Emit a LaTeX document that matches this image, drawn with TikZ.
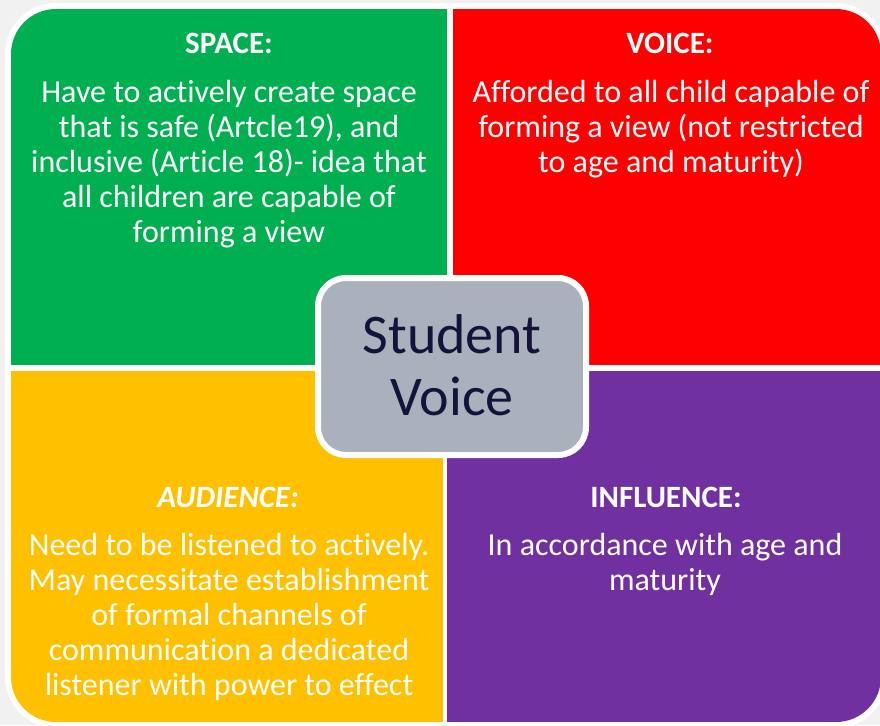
\documentclass[tikz,border=0pt]{standalone}
\usepackage{fontspec}
\setmainfont{Carlito}[Ligatures=NoCommon]
\definecolor{pagegray}{HTML}{F1F1F1}
\definecolor{qgreen}{HTML}{00B050}
\definecolor{qred}{HTML}{FF0000}
\definecolor{qyellow}{HTML}{FFC000}
\definecolor{qpurple}{HTML}{7030A0}
\definecolor{boxgray}{HTML}{AAB1BD}
\definecolor{navy}{HTML}{15133A}
% centred lines whose baseline is that of the first line
\newcommand{\stack}[1]{\begin{tabular}[t]{@{}c@{}}#1\end{tabular}}
\begin{document}
\begin{tikzpicture}[x=1pt,y=-1pt,
  quad/.style={rectangle,draw=none,inner sep=0pt,anchor=north west},
  head/.style={text=white,inner sep=0pt,anchor=base,font=\fontsize{31}{35}\selectfont\bfseries},
  body/.style={text=white,inner sep=0pt,anchor=base,font=\fontsize{32}{35}\selectfont},
  hub/.style={rectangle,rounded corners=28pt,draw=white,line width=6pt,fill=boxgray,
    minimum width=268pt,minimum height=177pt,inner sep=0pt},
  hubtext/.style={text=navy,inner sep=0pt,anchor=base,font=\fontsize{56}{62}\selectfont}]
\useasboundingbox (0,0) rectangle (880,725);
\fill[pagegray] (0,0) rectangle (880,725);
% white frame behind the four quadrants
\fill[white,rounded corners=51pt] (5,3) rectangle (887,728);
\begin{scope}
  \clip[rounded corners=45pt] (11,9) rectangle (881,722);
  \node[quad,fill=qgreen,minimum width=436pt,minimum height=356pt] (space) at (11,9) {};
  \node[quad,fill=qred,minimum width=428pt,minimum height=356pt] (voice) at (453,9) {};
  \node[quad,fill=qyellow,minimum width=432pt,minimum height=351pt] (audience) at (11,371) {};
  \node[quad,fill=qpurple,minimum width=434pt,minimum height=351pt] (influence) at (447,371) {};
\end{scope}
% headings
\node[head] (spaceh) at (229,53) {SPACE:};
\node[head] (voiceh) at (670,53) {VOICE:};
\node[head] (audienceh) at (228,507) {\itshape AUDIENCE:};
\node[head] (influenceh) at (666,507) {INFLUENCE:};
% texts
\node[body] (spacet) at (229,102) {\stack{Have to actively create space\\that is safe (Artcle19), and\\inclusive (Article 18)- idea that\\all children are capable of\\forming a view}};
\node[body] (voicet) at (671,102) {\stack{Afforded to all child capable of\\forming a view (not restricted\\to age and maturity)}};
\node[body] (audiencet) at (229,555) {\stack{Need to be listened to actively.\\May necessitate establishment\\of formal channels of\\communication a dedicated\\listener with power to effect}};
\node[body] (influencet) at (665,555) {\stack{In accordance with age and\\maturity}};
% centre box
\node[hub] (hub) at (452,366.5) {};
\node[hubtext] (hubt) at (452,353.5) {\stack{Student\\Voice}};
\end{tikzpicture}
\end{document}
